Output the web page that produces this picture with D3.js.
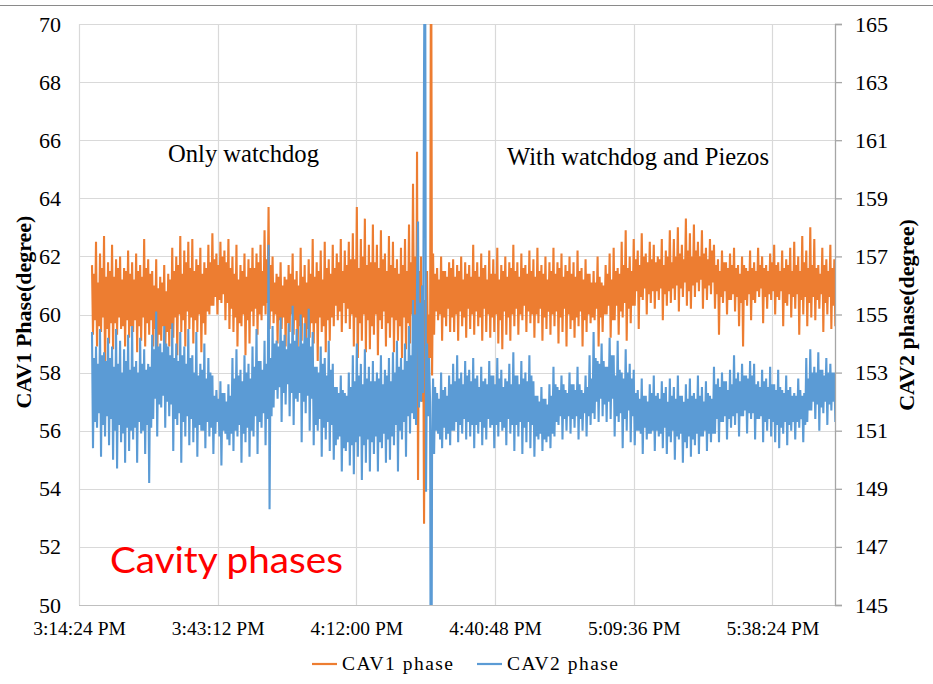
<!DOCTYPE html>
<html>
<head>
<meta charset="utf-8">
<script src="https://cdn.jsdelivr.net/npm/d3@7"></script>
<style>
body { margin: 0; background: #fff; }
text { font-family: "Liberation Serif", "Times New Roman", serif; fill: #000; }
</style>
</head>
<body>
<svg id="chart"></svg>
<script>
// CAV1 phase (left axis, degree), one sample every 12.5 s
var cav1Phase = [
  61.7, 59.3, 61.4, 59.8, 62.5, 58.9, 61.1, 59.6, 62.1, 59.4, 61.6, 59.9, 62.7, 58.1, 61.3, 59.5, 61.8, 59.0, 61.5, 59.7,
  62.4, 58.8, 61.3, 59.7, 61.9, 59.3, 61.6, 59.9, 62.0, 59.5, 61.2, 59.6, 61.6, 58.9, 61.5, 59.8, 62.2, 59.2, 61.4, 59.6,
  61.8, 59.4, 61.2, 59.8, 62.1, 58.7, 61.5, 59.6, 61.7, 59.1, 61.3, 59.9, 62.6, 58.9, 61.6, 59.7, 61.9, 59.3, 61.4, 59.8,
  61.5, 58.9, 61.0, 59.5, 61.9, 58.4, 60.9, 59.3, 61.3, 59.1, 61.1, 59.6, 61.7, 58.6, 60.8, 59.4, 61.4, 58.9, 61.2, 59.5,
  62.3, 59.2, 61.5, 59.9, 62.0, 58.6, 61.7, 60.0, 62.7, 59.4, 61.4, 59.8, 62.2, 58.9, 61.8, 60.1, 62.5, 59.5, 61.6, 59.9,
  62.6, 59.0, 61.5, 59.8, 61.9, 59.4, 61.7, 60.0, 62.3, 58.7, 61.4, 59.7, 61.8, 59.3, 61.6, 60.1, 62.4, 60.0, 61.8, 60.3,
  62.8, 60.3, 61.9, 60.6, 62.1, 60.0, 61.7, 60.5, 62.5, 60.4, 62.0, 60.7, 62.2, 59.8, 61.8, 60.4, 62.6, 59.5, 61.6, 60.2,
  62.0, 59.4, 61.4, 59.9, 62.4, 58.9, 61.2, 59.7, 61.7, 59.6, 61.5, 60.0, 62.1, 58.6, 61.3, 59.8, 61.9, 59.0, 61.6, 60.1,
  62.3, 59.6, 61.6, 60.2, 62.1, 59.3, 61.8, 60.0, 62.4, 59.8, 61.5, 60.3, 62.9, 60.0, 61.9, 60.4, 63.7, 59.5, 61.7, 60.1,
  62.0, 59.7, 61.1, 60.0, 61.4, 59.0, 61.3, 59.8, 61.8, 59.5, 61.0, 59.9, 61.3, 58.9, 61.2, 59.7, 61.7, 59.4, 61.4, 60.0,
  62.1, 59.3, 61.2, 59.8, 61.5, 58.8, 61.0, 59.6, 62.3, 59.1, 61.3, 59.9, 61.7, 58.6, 61.1, 59.5, 61.9, 59.2, 61.4, 59.7,
  62.6, 59.0, 61.3, 59.7, 61.8, 58.4, 61.5, 59.9, 62.2, 59.4, 61.2, 59.6, 62.5, 58.7, 61.6, 59.8, 61.9, 59.1, 61.4, 59.9,
  62.4, 59.6, 61.6, 60.3, 62.1, 59.8, 61.8, 60.1, 62.6, 59.4, 61.5, 60.4, 62.2, 59.7, 61.7, 60.2, 62.5, 59.5, 61.9, 60.0,
  62.8, 58.9, 61.9, 59.9, 63.7, 58.5, 61.6, 59.7, 62.6, 59.1, 62.0, 60.0, 63.3, 58.7, 61.7, 59.8, 62.4, 58.8, 61.8, 59.6,
  63.1, 59.3, 61.8, 60.0, 62.4, 58.6, 61.6, 59.8, 62.9, 59.5, 61.9, 60.1, 62.1, 58.9, 61.5, 59.7, 62.7, 59.2, 61.7, 59.9,
  62.5, 58.7, 61.6, 59.8, 61.9, 59.1, 61.4, 59.6, 62.3, 58.5, 61.7, 59.9, 62.6, 58.8, 61.5, 59.7, 63.1, 59.0, 61.8, 60.0,
  64.5, 59.5, 62.0, 56.5, 65.6, 54.3, 61.5, 58.8, 62.0, 57.0, 61.0, 52.8, 60.5, 59.0, 61.5, 58.0, 60.0, 58.5, 75.0, 57.9,
  62.1, 59.3, 61.4, 60.1, 61.6, 59.8, 61.2, 60.0, 62.0, 59.1, 61.5, 59.9, 61.5, 59.6, 61.3, 60.2, 61.8, 59.4, 61.6, 59.9,
  61.9, 59.4, 61.3, 60.0, 61.7, 59.1, 61.5, 60.1, 62.0, 59.6, 61.2, 59.9, 61.8, 59.2, 61.4, 60.2, 61.7, 59.5, 61.3, 60.0,
  62.4, 59.3, 61.5, 60.1, 61.8, 59.6, 61.3, 59.9, 62.1, 59.1, 61.6, 60.2, 61.7, 59.4, 61.2, 60.0, 62.2, 59.2, 61.4, 59.9,
  61.9, 59.4, 61.4, 60.0, 62.3, 59.0, 61.2, 59.8, 61.7, 58.8, 61.5, 60.1, 62.0, 59.3, 61.3, 59.9, 61.8, 59.1, 61.6, 60.0,
  62.4, 59.6, 61.5, 60.2, 61.8, 59.3, 61.3, 60.0, 62.1, 59.8, 61.6, 60.3, 61.7, 59.4, 61.4, 60.1, 62.2, 59.7, 61.5, 60.0,
  61.9, 59.2, 61.3, 60.0, 62.3, 59.7, 61.5, 60.2, 61.7, 59.1, 61.4, 59.9, 62.0, 59.5, 61.2, 60.1, 61.8, 59.3, 61.5, 60.0,
  62.3, 59.6, 61.4, 60.1, 61.8, 59.0, 61.6, 59.9, 62.1, 59.4, 61.3, 60.2, 61.7, 58.9, 61.5, 60.0, 62.0, 59.5, 61.4, 59.8,
  61.8, 59.2, 61.3, 59.9, 62.2, 59.6, 61.5, 60.1, 61.6, 58.9, 61.2, 59.8, 61.9, 59.4, 61.4, 60.0, 61.4, 59.7, 61.1, 59.9,
  61.5, 59.8, 61.1, 60.2, 62.0, 58.9, 61.3, 59.9, 61.1, 59.4, 61.0, 60.0, 61.7, 60.0, 61.4, 60.3, 62.1, 59.2, 61.2, 59.8,
  62.3, 59.8, 61.5, 60.3, 61.6, 59.3, 61.4, 60.1, 62.5, 59.9, 61.7, 60.4, 62.9, 59.1, 61.6, 60.2, 62.0, 59.7, 61.5, 60.3,
  62.6, 60.3, 61.9, 60.8, 62.2, 59.5, 61.7, 60.6, 62.8, 60.5, 62.0, 60.9, 62.1, 60.0, 61.8, 60.7, 62.5, 60.4, 61.9, 60.8,
  62.4, 60.2, 61.8, 60.8, 62.0, 60.5, 61.9, 60.9, 62.6, 59.8, 61.7, 60.7, 62.2, 60.3, 62.0, 60.8, 62.9, 60.4, 61.8, 60.9,
  62.6, 60.5, 62.0, 61.0, 63.0, 60.1, 62.1, 60.9, 62.4, 60.6, 61.9, 61.1, 63.3, 60.3, 62.2, 60.8, 62.8, 60.2, 62.0, 61.0,
  63.1, 60.6, 62.2, 61.1, 62.5, 60.8, 62.0, 61.2, 62.9, 60.2, 62.1, 60.9, 62.3, 60.5, 61.9, 61.0, 62.6, 60.7, 62.2, 61.1,
  62.4, 60.2, 61.7, 60.7, 61.9, 59.3, 61.5, 60.6, 62.2, 60.4, 61.8, 60.8, 61.8, 60.0, 61.6, 60.5, 62.1, 60.5, 61.7, 60.7,
  62.3, 60.1, 61.6, 60.6, 61.7, 59.6, 61.4, 60.4, 62.0, 58.9, 61.7, 60.5, 61.6, 60.3, 61.5, 60.7, 62.2, 59.8, 61.6, 60.5,
  61.8, 60.4, 61.5, 60.8, 62.3, 60.6, 61.7, 60.9, 62.0, 59.7, 61.6, 60.6, 61.7, 60.2, 61.5, 60.7, 62.1, 60.5, 61.8, 60.8,
  62.4, 60.0, 61.7, 60.6, 61.8, 60.5, 61.5, 60.8, 62.2, 59.6, 61.6, 60.4, 61.9, 60.3, 61.7, 60.7, 62.3, 59.9, 61.5, 60.6,
  62.5, 60.2, 61.7, 60.7, 62.0, 59.3, 61.5, 60.5, 62.7, 60.0, 61.8, 60.6, 62.2, 59.6, 61.6, 60.4, 63.0, 59.9, 61.7, 60.6,
  62.6, 59.8, 61.6, 60.5, 61.7, 60.2, 61.4, 60.7, 62.3, 59.4, 61.7, 60.4, 61.9, 60.0, 61.5, 60.6, 62.4, 59.5, 61.6, 60.3,
  61.9, 59.6, 61.5, 60.2
];

// CAV2 phase (right axis, degree), same sampling
var cav2Phase = [
  154.4, 150.4, 153.5, 151.3, 153.9, 151.1, 153.3, 151.6, 154.5, 150.1, 153.6, 151.2, 153.7, 150.8, 153.4, 151.5, 154.2, 150.5, 153.5, 151.4,
  153.9, 150.0, 153.2, 151.0, 154.5, 149.7, 153.3, 151.2, 154.1, 150.6, 153.0, 150.9, 153.8, 149.9, 153.4, 151.1, 154.3, 150.3, 153.1, 151.0,
  154.6, 150.7, 153.2, 151.1, 153.4, 149.9, 153.0, 151.3, 154.2, 150.9, 153.3, 151.0, 153.8, 150.2, 153.1, 151.2, 153.3, 149.2, 153.2, 151.1,
  154.3, 151.4, 153.8, 152.1, 155.1, 150.8, 153.9, 151.9, 154.0, 151.8, 153.7, 152.2, 154.6, 151.1, 154.0, 152.0, 153.9, 151.5, 153.6, 151.9,
  154.7, 150.3, 153.5, 151.4, 154.0, 151.2, 153.4, 151.6, 154.4, 149.9, 153.6, 151.3, 153.9, 150.8, 153.3, 151.5, 154.5, 150.5, 153.5, 151.4,
  153.6, 150.6, 153.0, 151.1, 154.4, 150.1, 152.9, 151.2, 153.3, 151.0, 153.1, 151.0, 154.0, 150.4, 152.8, 151.3, 153.5, 150.8, 153.0, 151.1,
  152.9, 150.2, 152.2, 150.9, 152.4, 151.3, 152.1, 150.8, 152.7, 149.8, 152.3, 151.0, 152.3, 150.9, 152.0, 150.7, 152.6, 150.5, 152.2, 150.9,
  153.5, 150.3, 152.8, 151.0, 153.8, 150.8, 152.9, 151.2, 153.1, 149.9, 152.7, 150.9, 153.6, 150.6, 153.0, 151.1, 153.3, 150.1, 152.8, 151.0,
  153.9, 150.8, 153.2, 151.5, 154.5, 150.2, 153.4, 151.3, 153.4, 151.1, 153.1, 151.6, 154.1, 150.5, 153.3, 151.4, 157.4, 148.3, 153.5, 151.5,
  154.6, 151.8, 154.0, 152.4, 154.1, 152.1, 153.9, 152.5, 154.9, 151.3, 154.1, 152.3, 154.3, 151.9, 153.8, 152.6, 154.7, 151.5, 154.0, 152.3,
  155.3, 151.2, 154.1, 152.1, 154.5, 152.0, 153.9, 152.3, 155.0, 150.6, 154.0, 152.0, 154.7, 151.6, 154.2, 152.2, 155.2, 151.0, 153.9, 152.1,
  154.4, 150.5, 153.2, 151.2, 153.2, 151.0, 153.0, 151.4, 153.9, 150.1, 153.3, 151.1, 153.5, 150.7, 152.9, 151.3, 154.1, 150.3, 153.1, 151.2,
  153.3, 150.0, 152.5, 150.5, 152.5, 150.7, 152.3, 150.8, 152.9, 149.6, 152.4, 150.4, 152.3, 150.3, 152.2, 150.6, 153.0, 149.8, 152.5, 150.5,
  153.6, 149.5, 152.7, 150.6, 154.0, 150.1, 152.9, 150.8, 153.3, 149.3, 152.6, 150.5, 153.8, 149.9, 152.8, 150.7, 153.2, 149.6, 152.7, 150.6,
  153.4, 150.2, 152.7, 150.8, 153.0, 149.6, 152.8, 150.6, 153.6, 150.4, 152.6, 150.9, 153.1, 149.9, 152.9, 150.7, 153.5, 150.0, 152.7, 150.8,
  153.7, 150.5, 153.0, 151.2, 154.1, 149.6, 153.2, 151.0, 153.5, 150.7, 153.1, 151.3, 154.0, 150.1, 153.4, 151.5, 154.6, 150.9, 153.6, 151.6,
  155.5, 151.4, 155.0, 151.2, 156.0, 158.2, 151.8, 155.4, 152.0, 156.0, 152.3, 163.6, 170.0, 148.9, 154.0, 151.5, 153.5, 152.0, 135.0, 150.6,
  152.8, 150.2, 152.5, 151.0, 152.3, 150.9, 152.1, 150.7, 153.0, 150.4, 152.4, 151.1, 152.5, 150.7, 152.2, 150.9, 152.9, 150.5, 152.6, 151.0,
  153.3, 151.0, 152.7, 151.3, 153.6, 150.6, 152.8, 151.2, 153.0, 150.9, 152.6, 151.4, 153.4, 150.7, 152.9, 151.3, 153.1, 150.8, 152.7, 151.2,
  153.5, 150.4, 152.8, 151.2, 152.9, 150.9, 152.5, 151.3, 153.2, 150.5, 152.7, 151.1, 152.8, 150.7, 152.6, 151.4, 153.4, 151.1, 152.9, 151.2,
  152.9, 150.4, 152.6, 151.2, 153.5, 150.8, 152.8, 151.3, 153.1, 151.0, 152.5, 151.1, 152.8, 150.5, 152.7, 151.4, 153.3, 150.9, 152.6, 151.2,
  153.7, 150.3, 152.9, 151.2, 152.9, 150.8, 152.6, 151.3, 153.4, 150.2, 152.8, 151.1, 153.0, 150.6, 152.7, 151.3, 153.6, 150.4, 152.9, 151.2,
  152.7, 150.1, 152.2, 150.8, 152.2, 150.7, 152.0, 150.9, 152.5, 150.3, 152.1, 150.7, 152.1, 150.6, 151.9, 150.8, 152.6, 150.4, 152.2, 150.9,
  153.2, 150.8, 152.6, 151.3, 152.5, 151.2, 152.4, 151.5, 152.9, 150.7, 152.6, 151.4, 152.4, 151.0, 152.3, 151.5, 153.0, 150.9, 152.6, 151.4,
  152.6, 151.1, 152.4, 151.5, 153.2, 150.7, 152.6, 151.4, 152.4, 151.0, 152.3, 151.6, 152.9, 150.8, 152.5, 151.5, 153.6, 151.2, 152.8, 151.6,
  154.4, 151.4, 153.5, 152.0, 153.4, 151.3, 153.3, 152.1, 154.0, 151.5, 153.4, 151.9, 153.2, 151.3, 153.2, 152.0, 154.2, 151.4, 153.6, 152.1,
  153.6, 150.8, 152.9, 151.5, 154.1, 151.3, 153.1, 151.6, 153.0, 150.4, 152.8, 151.4, 153.8, 151.0, 153.0, 151.7, 153.3, 150.6, 152.8, 151.5,
  153.1, 150.5, 152.3, 151.0, 152.4, 151.0, 152.1, 150.9, 152.8, 150.2, 152.2, 151.1, 152.2, 150.7, 152.0, 150.9, 152.6, 150.9, 152.3, 151.0,
  152.9, 150.3, 152.2, 151.0, 152.3, 150.8, 152.1, 150.9, 152.7, 150.4, 152.3, 151.1, 152.5, 150.2, 152.0, 150.8, 152.8, 150.6, 152.2, 151.0,
  152.5, 150.0, 152.1, 150.8, 152.9, 150.7, 152.2, 150.9, 152.2, 149.9, 152.0, 150.6, 152.6, 150.4, 152.1, 150.8, 152.8, 150.1, 152.2, 150.7,
  152.3, 150.5, 152.1, 150.9, 152.9, 150.2, 152.2, 150.8, 152.5, 150.8, 152.0, 151.0, 152.7, 150.3, 152.3, 150.9, 152.2, 150.6, 152.1, 150.9,
  153.2, 150.9, 152.6, 151.4, 152.8, 150.6, 152.5, 151.3, 153.0, 151.3, 152.7, 151.5, 152.7, 150.7, 152.4, 151.4, 153.1, 151.1, 152.6, 151.5,
  153.6, 151.2, 152.8, 151.6, 153.0, 150.8, 152.7, 151.5, 153.3, 151.5, 152.9, 151.7, 152.9, 150.9, 152.8, 151.6, 153.4, 151.4, 152.9, 151.6,
  153.3, 150.7, 152.6, 151.4, 152.7, 151.4, 152.5, 151.5, 153.1, 150.6, 152.7, 151.3, 152.8, 151.0, 152.5, 151.4, 153.2, 150.8, 152.6, 151.3,
  152.6, 150.6, 152.4, 151.2, 153.1, 150.4, 152.5, 151.1, 152.4, 150.9, 152.3, 151.3, 152.9, 150.5, 152.4, 151.2, 152.5, 151.0, 152.2, 151.3,
  152.3, 150.7, 152.2, 151.3, 152.8, 151.1, 152.4, 151.4, 152.2, 150.6, 152.3, 151.2, 153.5, 151.3, 152.8, 151.7, 153.8, 151.7, 153.0, 152.0,
  153.2, 151.4, 153.0, 151.9, 153.7, 151.0, 153.1, 151.8, 153.1, 151.6, 152.9, 152.0, 153.5, 151.2, 153.0, 151.9, 153.3, 151.7, 153.0, 152.0,
  153.0, 151.3, 152.8, 151.8
];

var sampleStart = "15:17:06";
var sampleStepMs = 12500;
var axisStart = "15:14:24";
var axisEnd = "17:51:24";
var timeTicks = ["15:14:24", "15:43:12", "16:12:00", "16:40:48", "17:09:36", "17:38:24"];
var cav1Ticks = [50, 52, 54, 56, 58, 60, 62, 64, 66, 68, 70];
var cav2Ticks = [145, 147, 149, 151, 153, 155, 157, 159, 161, 163, 165];
var seriesNames = ["CAV1 phase", "CAV2 phase"];
var seriesColors = ["#ED7D31", "#5B9BD5"];

var width = 933, height = 684;
var margin = { top: 24, left: 79, bottom: 79, right: 98 };
var innerW = width - margin.left - margin.right;
var innerH = height - margin.top - margin.bottom;

var parse = d3.timeParse("%H:%M:%S");
var t0 = parse(sampleStart);
function sampleTime(i) { return d3.timeMillisecond.offset(t0, i * sampleStepMs); }

var svg = d3.select("#chart").attr("width", width).attr("height", height);

// slide border line at the top
svg.append("line")
   .attr("x1", 0).attr("x2", width).attr("y1", 5.5).attr("y2", 5.5)
   .attr("stroke", "#8a8a8a").attr("stroke-width", 1.2);

var g = svg.append("g").attr("transform", "translate(" + margin.left + "," + margin.top + ")");

var x = d3.scaleTime().domain([parse(axisStart), parse(axisEnd)]).range([0, innerW]);
var yL = d3.scaleLinear().domain([50, 70]).range([innerH, 0]);
var yR = d3.scaleLinear().domain([145, 165]).range([innerH, 0]);

// grid
g.append("g").selectAll("line").data(cav1Ticks).enter().append("line")
  .attr("x1", 0).attr("x2", innerW)
  .attr("y1", function (d) { return Math.round(yL(d)) + 0.5; })
  .attr("y2", function (d) { return Math.round(yL(d)) + 0.5; })
  .attr("stroke", "#d9d9d9").attr("stroke-width", 1.2);
g.append("g").selectAll("line").data(timeTicks.map(parse)).enter().append("line")
  .attr("y1", 0).attr("y2", innerH)
  .attr("x1", function (d) { return Math.round(x(d)) + 0.5; })
  .attr("x2", function (d) { return Math.round(x(d)) + 0.5; })
  .attr("stroke", "#d9d9d9").attr("stroke-width", 1.2);

// bottom axis line
g.append("line").attr("x1", 0).attr("x2", innerW).attr("y1", innerH + 0.5).attr("y2", innerH + 0.5)
  .attr("stroke", "#bfbfbf").attr("stroke-width", 1.2);

// series
g.append("clipPath").attr("id", "plotclip").append("rect")
  .attr("width", innerW).attr("height", innerH);

var line1 = d3.line().x(function (d, i) { return x(sampleTime(i)); }).y(function (d) { return yL(d); });
var line2 = d3.line().x(function (d, i) { return x(sampleTime(i)); }).y(function (d) { return yR(d); });

var plot = g.append("g").attr("clip-path", "url(#plotclip)");
plot.append("path").datum(cav1Phase).attr("d", line1)
  .attr("fill", "none").attr("stroke", seriesColors[0]).attr("stroke-width", 2.1).attr("stroke-linejoin", "bevel");
plot.append("path").datum(cav2Phase).attr("d", line2)
  .attr("fill", "none").attr("stroke", seriesColors[1]).attr("stroke-width", 2.1).attr("stroke-linejoin", "bevel");

// axes
var xAxis = g.append("g").attr("transform", "translate(0," + innerH + ")")
  .call(d3.axisBottom(x).tickValues(timeTicks.map(parse)).tickFormat(d3.timeFormat("%-I:%M:%S %p")).tickSize(0).tickPadding(16));
xAxis.select(".domain").remove();
xAxis.selectAll("text").style("font-size", "19.5px").style("font-family", "Liberation Serif");

var leftAxis = g.append("g")
  .call(d3.axisLeft(yL).tickValues(cav1Ticks).tickSize(0).tickPadding(18));
leftAxis.select(".domain").remove();
leftAxis.selectAll("text").style("font-size", "22px").style("font-family", "Liberation Serif");

var rightAxis = g.append("g").attr("transform", "translate(" + innerW + ",0)")
  .call(d3.axisRight(yR).tickValues(cav2Ticks).tickSize(7).tickPadding(13));
rightAxis.select(".domain").attr("stroke", "#a6a6a6").attr("stroke-width", 1.3);
rightAxis.selectAll(".tick line").attr("stroke", "#a6a6a6").attr("stroke-width", 1.3);
rightAxis.selectAll("text").style("font-size", "22px").style("font-family", "Liberation Serif");

// axis titles
svg.append("text")
  .attr("transform", "translate(31,312) rotate(-90)")
  .attr("text-anchor", "middle")
  .style("font-size", "22px").style("font-weight", "bold")
  .text("CAV1 Phase(degree)");
svg.append("text")
  .attr("transform", "translate(914,315) rotate(-90)")
  .attr("text-anchor", "middle")
  .style("font-size", "22px").style("font-weight", "bold")
  .text("CAV2 phase(degree)");

// annotations
svg.append("text").attr("x", 168).attr("y", 162).style("font-size", "24.6px").text("Only watchdog");
svg.append("text").attr("x", 507).attr("y", 165).style("font-size", "24.6px").text("With watchdog and Piezos");
svg.append("text").attr("x", 110).attr("y", 573)
  .attr("textLength", 233).attr("lengthAdjust", "spacingAndGlyphs")
  .style("font-family", "Lato, 'Open Sans', sans-serif").style("font-size", "37px").style("fill", "#ff0000")
  .text("Cavity phases");

// legend
var legend = svg.append("g");
var legendX = [312, 477];
seriesNames.forEach(function (name, i) {
  legend.append("line")
    .attr("x1", legendX[i]).attr("x2", legendX[i] + 25)
    .attr("y1", 664).attr("y2", 664)
    .attr("stroke", seriesColors[i]).attr("stroke-width", 2.2);
  legend.append("text")
    .attr("x", legendX[i] + 30).attr("y", 670)
    .attr("textLength", 111).attr("lengthAdjust", "spacing")
    .style("font-family", "Liberation Serif")
    .style("font-size", "19.5px")
    .text(name);
});
</script>
</body>
</html>
